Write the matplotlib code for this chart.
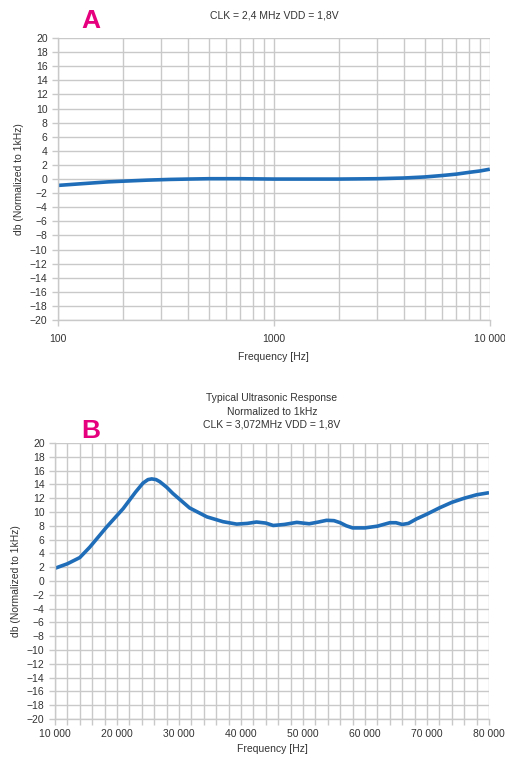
import matplotlib
matplotlib.use("Agg")
import matplotlib.pyplot as plt
from matplotlib.ticker import FixedLocator, MultipleLocator, FuncFormatter

plt.rcParams["font.family"] = ["Liberation Sans", "DejaVu Sans"]

# Chart A: audio band response (log frequency)
freq_a = [100, 130, 170, 200, 260, 330, 400, 500, 700, 1000, 1500, 2000, 3000,
          4000, 5000, 6000, 7000, 8000, 9000, 10000]
db_a = [-0.9, -0.65, -0.4, -0.3, -0.15, -0.05, 0.0, 0.05, 0.05, 0.0, 0.0, 0.0, 0.05,
        0.15, 0.3, 0.5, 0.7, 0.95, 1.15, 1.4]

# Chart B: ultrasonic response
freq_b = [10000, 12000, 14000, 15600, 18300, 21000, 23000, 24200, 25000, 25600, 26300, 26900,
          28000, 29000, 31700, 34500, 37100, 39300, 41000, 42500, 44000, 45200, 47000,
          49000, 51000, 52500, 53800, 55000, 56000, 57000, 58000, 60000, 62000,
          64000, 65000, 66000, 67000, 68300, 70000, 72000, 74000, 76000, 78000, 80000]
db_b = [1.85, 2.5, 3.4, 4.9, 7.8, 10.5, 12.9, 14.2, 14.7, 14.8, 14.7, 14.4,
        13.6, 12.7, 10.6, 9.3, 8.6, 8.25, 8.35, 8.55, 8.4, 8.05, 8.2,
        8.5, 8.3, 8.55, 8.8, 8.75, 8.45, 8.0, 7.7, 7.7, 7.95,
        8.45, 8.45, 8.2, 8.35, 9.0, 9.7, 10.6, 11.4, 12.0, 12.5, 12.8]

line_color = "#1f6db8"
grid_color = "#c9c9c9"
label_color = "#e6007e"
text_color = "#333333"

fig = plt.figure(figsize=(5.06, 7.62), dpi=100)
ax_a = fig.add_axes([0.1146, 0.580, 0.8534, 0.370])
ax_b = fig.add_axes([0.1087, 0.0564, 0.8577, 0.3622])


def style_axes(ax, tick_pad, label_pad):
    ax.set_ylim(-20, 20)
    ax.yaxis.set_major_locator(MultipleLocator(2))
    ax.yaxis.set_major_formatter(FuncFormatter(lambda v, p: f"{int(v)}".replace("-", "\u2212")))
    ax.grid(True, which="both", color=grid_color, linewidth=1.0)
    ax.set_axisbelow(True)
    for side in ["top", "right"]:
        ax.spines[side].set_visible(False)
    for side in ["left", "bottom"]:
        ax.spines[side].set_color(grid_color)
        ax.spines[side].set_linewidth(1.0)
    ax.tick_params(axis="both", which="both", colors=grid_color, labelcolor=text_color,
                   labelsize=7.5, length=4, width=1.0)
    ax.tick_params(axis="x", which="major", pad=tick_pad)
    ax.set_ylabel("db (Normalized to 1kHz)", fontsize=7.5, color=text_color, labelpad=4)
    ax.set_xlabel("Frequency [Hz]", fontsize=7.5, color=text_color, labelpad=label_pad)


def thousands(v, p):
    s = f"{int(round(v)):,}".replace(",", " ")
    return s


# ---- A ----
ax_a.plot(freq_a, db_a, color=line_color, linewidth=2.6, solid_capstyle="butt")
ax_a.set_xscale("log")
ax_a.set_xlim(100, 10000)
ax_a.xaxis.set_major_locator(FixedLocator([100, 1000, 10000]))
ax_a.xaxis.set_major_formatter(FuncFormatter(lambda v, p: {100: "100", 1000: "1000", 10000: "10 000"}.get(int(round(v)), "")))
ax_a.xaxis.set_minor_locator(FixedLocator([k * 100 for k in range(2, 10)] + [k * 1000 for k in range(2, 10)]))
ax_a.xaxis.set_minor_formatter(FuncFormatter(lambda v, p: ""))
style_axes(ax_a, 6, 6)
ax_a.tick_params(axis="x", which="minor", length=0)
ax_a.set_title("CLK = 2,4 MHz VDD = 1,8V", fontsize=7.5, color=text_color, pad=14)
fig.text(0.18, 0.972, "A", fontsize=19, fontweight="bold", color=label_color, ha="center", va="center")

# ---- B ----
ax_b.plot(freq_b, db_b, color=line_color, linewidth=2.6, solid_capstyle="butt")
ax_b.set_xlim(10000, 80000)
ax_b.xaxis.set_major_locator(MultipleLocator(10000))
ax_b.xaxis.set_minor_locator(MultipleLocator(2000))
ax_b.xaxis.set_major_formatter(FuncFormatter(thousands))
style_axes(ax_b, 3, 4)
ax_b.set_title("Typical Ultrasonic Response\nNormalized to 1kHz\nCLK = 3,072MHz VDD = 1,8V",
               fontsize=7.5, color=text_color, pad=11, linespacing=1.4)
fig.text(0.18, 0.435, "B", fontsize=19, fontweight="bold", color=label_color, ha="center", va="center")

fig.savefig("out.png", dpi=100, facecolor="white")
